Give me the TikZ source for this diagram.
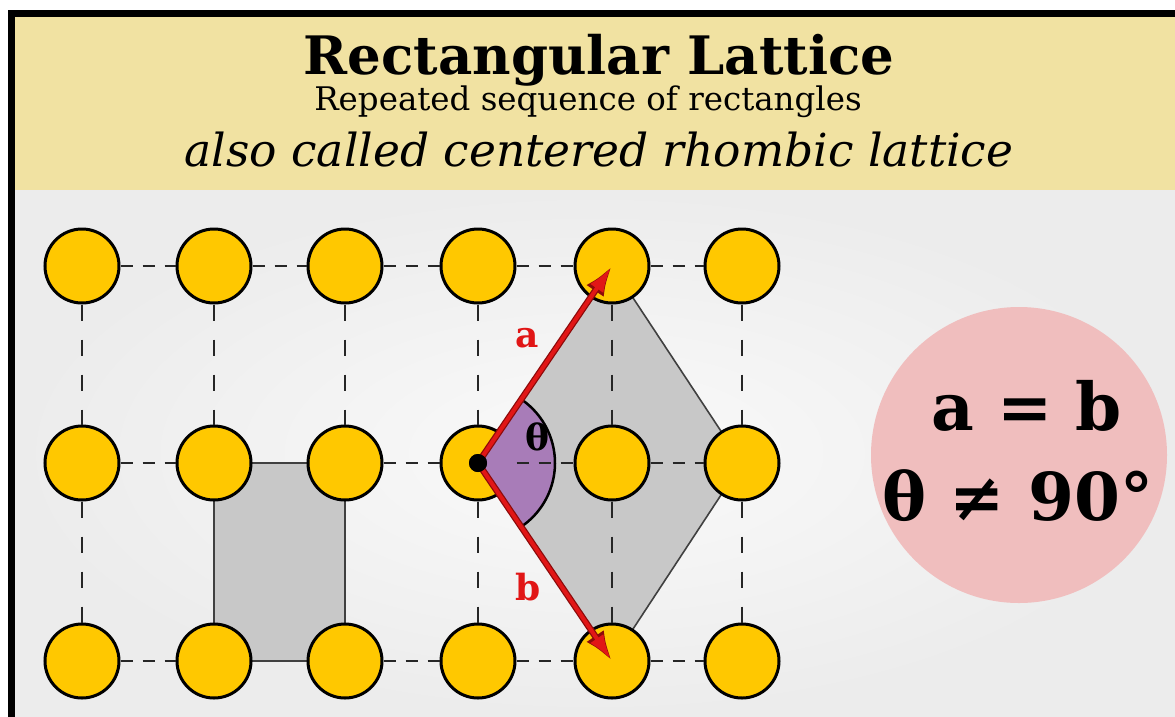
\documentclass[tikz,border=0pt]{standalone}
\usepackage{fontspec}
\setmainfont{DejaVu Serif}
\usetikzlibrary{arrows.meta}
\definecolor{hdr}{RGB}{241,226,162}
\definecolor{gold}{RGB}{255,200,0}
\definecolor{cellgray}{RGB}{200,200,200}
\definecolor{purp}{RGB}{168,124,184}
\definecolor{pinkc}{RGB}{240,190,190}
\definecolor{vecred}{RGB}{225,22,22}
\definecolor{vecdark}{RGB}{140,10,10}
\definecolor{bgin}{RGB}{250,250,250}
\definecolor{bgout}{RGB}{236,236,236}
\begin{document}
\begin{tikzpicture}[x=1pt,y=-1pt,
  atom/.style={circle, fill=gold, draw=black, line width=3pt, minimum size=74pt, inner sep=0pt},
  hline/.style={line width=2.2pt, draw=black!85, dash pattern=on 12pt off 10pt},
  vline/.style={line width=2.2pt, draw=black!85, dash pattern=on 16pt off 19pt},
  cellfill/.style={fill=cellgray, draw=black!75, line width=1.6pt},
  vecout/.style={draw=vecdark, line width=6.5pt, -{Latex[length=30pt,width=21pt]}},
  vec/.style={draw=vecred, line width=4pt, shorten >=2pt, -{Latex[length=25pt,width=16pt]}},
  lbl/.style={anchor=base, font=\bfseries\fontsize{36}{36}\selectfont},
  headtxt/.style={anchor=base, inner sep=0pt}]
\useasboundingbox (0,0) rectangle (1175,716);
\fill[white] (0,0) rectangle (1175,716);
% body and header
\shade[inner color=bgin, outer color=bgout] (15,190) rectangle (1175,716);
\fill[hdr] (15,16) rectangle (1175,190);
\draw[line width=7pt] (11,13) rectangle (1190,730);
% titles
\node[headtxt, text depth=0pt, font=\bfseries\fontsize{53}{53}\selectfont] (title) at (599,74) {Rectangular Lattice};
\node[headtxt, text height=19pt, font=\fontsize{32.5}{32.5}\selectfont] (sub) at (588,110) {Repeated sequence of rectangles};
\node[headtxt, font=\itshape\fontsize{45.5}{45.5}\selectfont] (alt) at (599,166) {also called centered rhombic lattice};
% lattice points
\foreach \c/\x in {1/82,2/214,3/345,4/478,5/612,6/742}
  \foreach \r/\y in {1/266,2/463,3/661}
    \coordinate (p\r\c) at (\x,\y);
% unit cells
\filldraw[cellfill] (p22) rectangle (p33);
\filldraw[cellfill] (p24) -- (p15) -- (p26) -- (p35) -- cycle;
% atoms
\foreach \r in {1,2,3}
  \foreach \c in {1,...,6}
    \node[atom] (c\r\c) at (p\r\c) {};
% angle wedge
\fill[purp] (p24) -- ++(-55.8:77) arc[start angle=-55.8, end angle=55.8, radius=77] -- cycle;
\draw[line width=2.5pt] (p24) ++(-55.8:77) arc[start angle=-55.8, end angle=55.8, radius=77];
% dashed lattice lines
\foreach \p/\q in {11/12,12/13,13/14,14/15,15/16,21/22,23/24,24/25,25/26,31/32,33/34,34/35,35/36}
  \draw[hline] (c\p) -- (c\q);
\foreach \p/\q in {11/21,12/22,13/23,14/24,15/25,16/26,21/31,24/34,25/35,26/36}
  \draw[vline] (c\p) -- (c\q);
% vectors
\node[circle, fill=black, minimum size=18pt, inner sep=0pt] (o) at (p24) {};
\draw[vecout] (o.center) -- (c15.center);
\draw[vecout] (o.center) -- (c35.center);
\draw[vec] (o.center) -- (c15.center);
\draw[vec] (o.center) -- (c35.center);
\node[circle, fill=black, minimum size=18pt, inner sep=0pt] (o2) at (p24) {};
\node[lbl, text=vecred] (la) at (527,347) {a};
\node[lbl, text=vecred] (lb) at (528,600) {b};
\node[lbl] (lt) at (537,450) {θ};
% relation disc
\node[circle, fill=pinkc, minimum size=296pt, inner sep=0pt] (eq) at (1019,455) {};
\node[anchor=base, font=\bfseries\fontsize{66}{66}\selectfont] (e1) at (1027,430) {a = b};
\node[anchor=base, font=\bfseries\fontsize{66}{66}\selectfont] (e2) at (1018,520) {θ ≠ 90°};
\end{tikzpicture}
\end{document}
